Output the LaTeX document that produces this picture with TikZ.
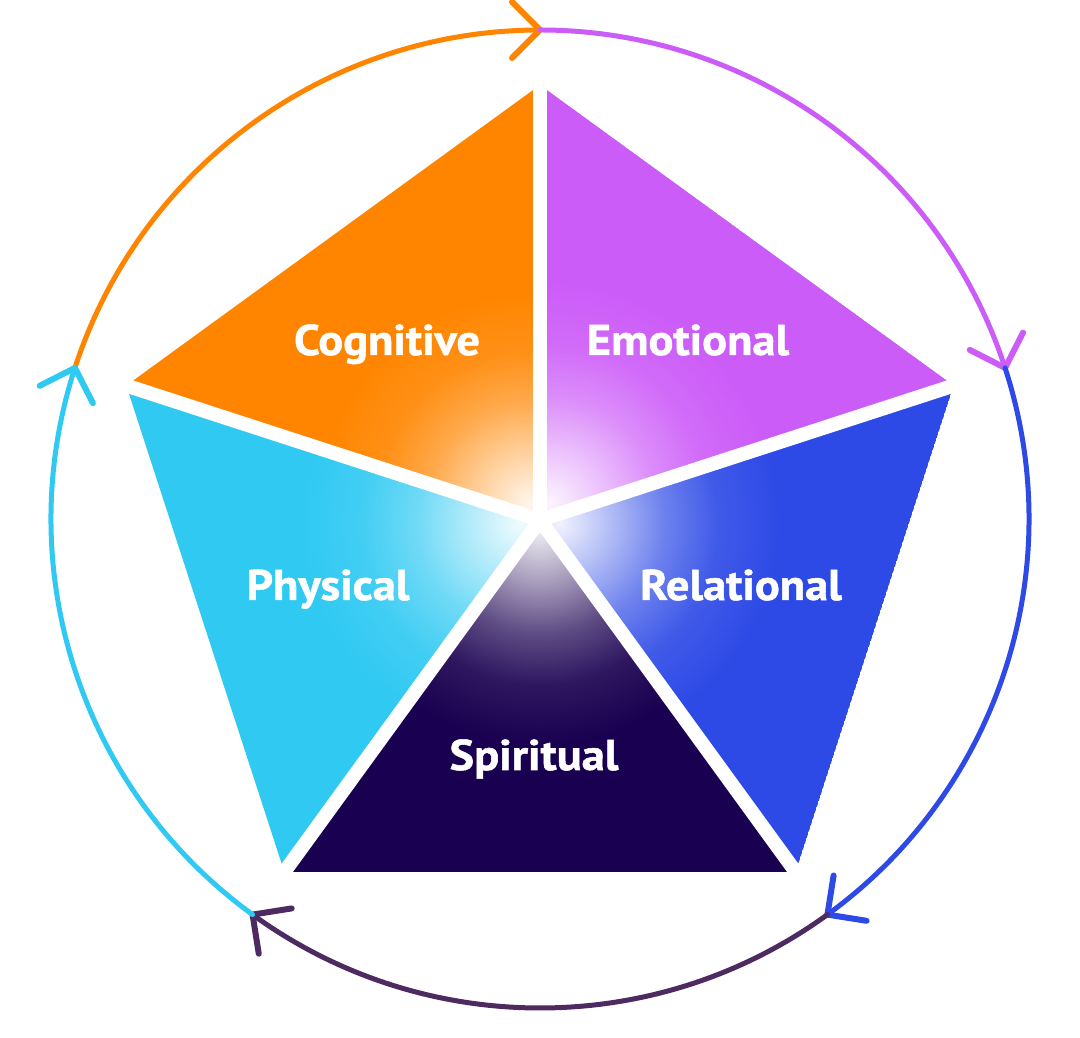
\documentclass[tikz,border=0pt]{standalone}
\usepackage{fontspec}
\setmainfont{PT Sans}
\newfontfamily\lblfont{PT Sans Bold}[FakeStretch=1.08, FakeBold=1.2]
\usetikzlibrary{calc}
\definecolor{cOrange}{HTML}{FF8500}
\definecolor{cPurple}{HTML}{CC5CF8}
\definecolor{cBlue}{HTML}{2D4AE6}
\definecolor{cNavy}{HTML}{1A0050}
\definecolor{cCyan}{HTML}{30C9F2}
\definecolor{cArcNavy}{HTML}{4D2A60}
\newcommand{\mkglow}[1]{%
  \colorlet{#1ga}{#1!7!white}\colorlet{#1gb}{#1!38!white}%
  \colorlet{#1gc}{#1!70!white}\colorlet{#1gd}{#1!91!white}%
  \pgfdeclareradialshading{glow#1}{\pgfpoint{0bp}{0bp}}{color(0bp)=(#1ga); color(6bp)=(#1gb); color(12bp)=(#1gc); color(18bp)=(#1gd); color(25bp)=(#1); color(50bp)=(#1)}}
\mkglow{cOrange}\mkglow{cPurple}\mkglow{cBlue}\mkglow{cNavy}\mkglow{cCyan}
\tikzset{
  lbl/.style={text=white, font=\lblfont\fontsize{43}{43}\selectfont, anchor=base, inner sep=0pt},
  ring/.style={line width=5pt, line cap=round},
  chev/.style={line width=6pt, line cap=round, line join=round},
}
\newcommand{\wedgeshade}[5]{% vertex1, vertex2, color, shade centre, radius
  \begin{scope}
    \clip (C) -- (#1) -- (#2) -- cycle;
    \fill[#3] (C) -- (#1) -- (#2) -- cycle;
    \shade[shading=glow#3] (#4) circle (#5);
  \end{scope}
}
\newcommand{\ringarc}[3]{% start angle, end angle, colour ; clockwise with arrowhead at end
  \draw[ring, #3] (O) ++(#1:489pt) arc[start angle=#1, end angle=#2, radius=489pt];
  \begin{scope}[shift={($(O)+(#2:489pt)$)}, rotate=#2-90]
    \draw[chev, #3] (-28pt,28pt) -- (0,0) -- (-28pt,-28pt);
  \end{scope}
}
\begin{document}
\begin{tikzpicture}[x=1pt,y=1pt]
\useasboundingbox (0,0) rectangle (1080,1038);
\coordinate (C) at (540,518);
\coordinate (O) at (540,519);
\coordinate (V1) at ($(C)+(90:435)$);
\coordinate (V2) at ($(C)+(18:435)$);
\coordinate (V3) at ($(C)+(-54:435)$);
\coordinate (V4) at ($(C)+(-126:435)$);
\coordinate (V5) at ($(C)+(162:435)$);
% wedges
\wedgeshade{V5}{V1}{cOrange}{$(C)+(120:20)$}{210pt}
\wedgeshade{V1}{V2}{cPurple}{$(C)+(60:20)$}{220pt}
\wedgeshade{V2}{V3}{cBlue}{$(C)+(-10:20)$}{220pt}
\wedgeshade{V3}{V4}{cNavy}{$(C)+(-90:10)$}{215pt}
\wedgeshade{V4}{V5}{cCyan}{$(C)+(190:20)$}{220pt}
% white gaps
\foreach \v in {V1,V2,V3,V4,V5}
  \draw[white, line width=14pt] (C) -- ($(C)!1.05!(\v)$);
% labels
\node[lbl] (cog) at (387,683) {Cognitive};
\node[lbl] (emo) at (688,683) {Emotional};
\node[lbl] (phy) at (328,438) {Physical};
\node[lbl] (rel) at (741,438) {Relational};
\node[lbl] (spi) at (534,268) {Spiritual};
% ring
\ringarc{162}{90}{cOrange}
\ringarc{90}{18}{cPurple}
\ringarc{18}{-54}{cBlue}
\ringarc{-54}{-126}{cArcNavy}
\ringarc{234}{162}{cCyan}
\end{tikzpicture}
\end{document}
